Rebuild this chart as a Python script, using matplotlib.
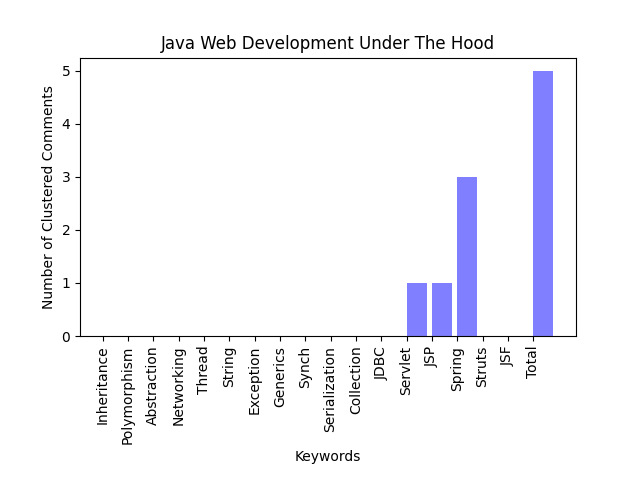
import matplotlib
matplotlib.use('Agg')
import matplotlib.pyplot as plt
import numpy as np

keywords = ["Inheritance", "Polymorphism", "Abstraction", "Networking", "Thread",
            "String", "Exception", "Generics", "Synch", "Serialization",
            "Collection", "JDBC", "Servlet", "JSP", "Spring", "Struts", "JSF", "Total"]
counts = [0, 0, 0, 0, 0, 0, 0, 0, 0, 0, 0, 0, 1, 1, 3, 0, 0, 5]

fig = plt.figure(figsize=(6.4, 4.8), dpi=100)
ax = fig.add_subplot(111)
pos = np.arange(len(keywords))
# bars start at the tick (old-style edge alignment)
ax.bar(pos, counts, align='edge', alpha=0.5, color='blue')
ax.set_xticks(pos)
ax.set_xticklabels(keywords, rotation=90)
ax.set_xlabel("Keywords")
ax.set_ylabel("Number of Clustered Comments")
ax.set_title("Java Web Development Under The Hood")
fig.subplots_adjust(bottom=0.3)
fig.savefig("out.png")
